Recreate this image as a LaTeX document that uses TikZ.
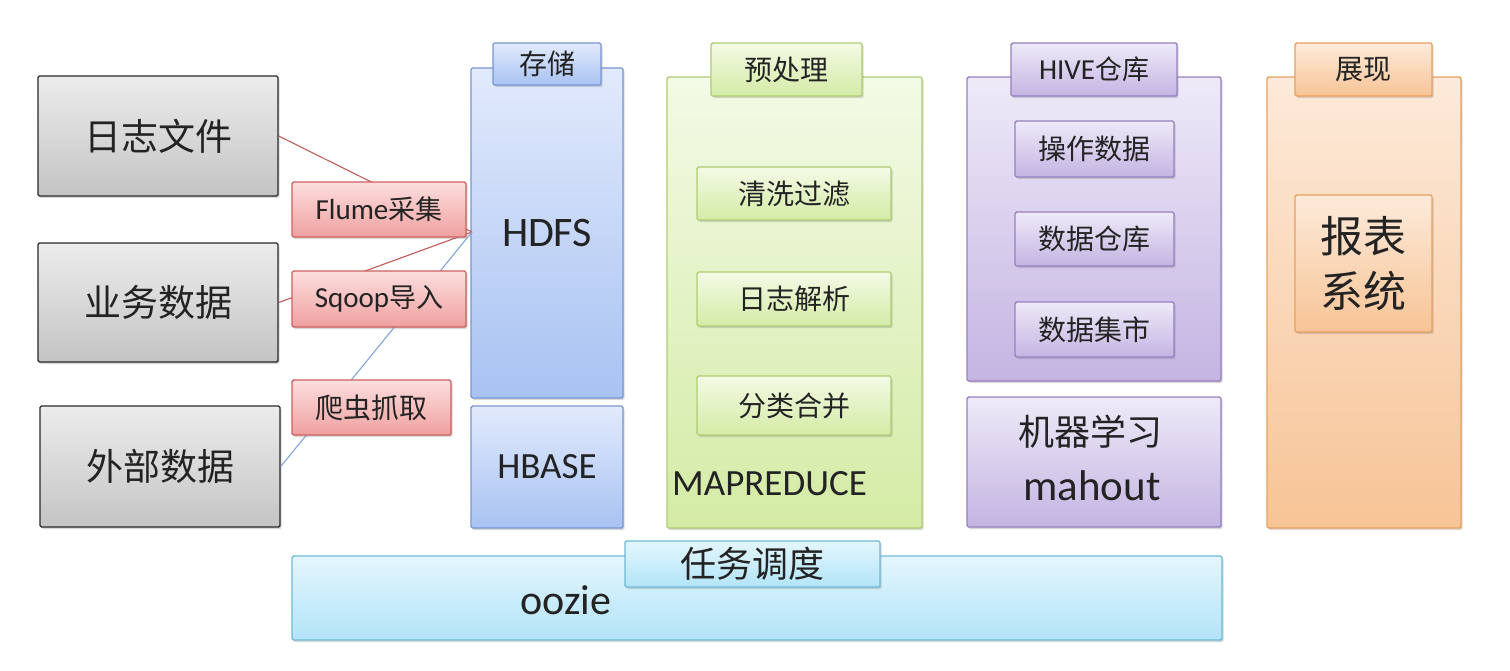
\documentclass[tikz,border=0pt]{standalone}
\usepackage{fontspec}
\setmainfont{Noto Sans CJK SC}
\newfontfamily\lat{Carlito}
\usetikzlibrary{shadows}
\newcommand{\fsz}[1]{\fontsize{#1}{#1}\selectfont}
\definecolor{txt}{RGB}{35,35,35}
\definecolor{grayD}{RGB}{40,40,40}
\definecolor{grayT}{RGB}{236,236,236}
\definecolor{grayBt}{RGB}{196,196,196}
\definecolor{redD}{RGB}{205,95,95}
\definecolor{redT}{RGB}{252,222,222}
\definecolor{redBt}{RGB}{240,160,160}
\definecolor{blueD}{RGB}{120,150,210}
\definecolor{blueT}{RGB}{226,234,252}
\definecolor{blueBt}{RGB}{168,194,242}
\definecolor{greenD}{RGB}{175,205,115}
\definecolor{greenT}{RGB}{243,250,230}
\definecolor{greenBt}{RGB}{212,235,165}
\definecolor{purD}{RGB}{150,128,192}
\definecolor{purT}{RGB}{238,234,248}
\definecolor{purBt}{RGB}{196,180,226}
\definecolor{orD}{RGB}{232,160,95}
\definecolor{orT}{RGB}{253,234,218}
\definecolor{orBt}{RGB}{247,196,150}
\definecolor{cyD}{RGB}{110,185,215}
\definecolor{cyT}{RGB}{228,246,253}
\definecolor{cyBt}{RGB}{178,228,248}
\definecolor{lineR}{RGB}{195,90,88}
\definecolor{lineB}{RGB}{130,165,215}
\begin{document}
\begin{tikzpicture}[x=1pt,y=-1pt,
  base/.style={draw, line width=1.4pt, rounded corners=1.5pt, inner sep=0pt, align=center, text=txt,
    drop shadow={shadow xshift=1.5pt, shadow yshift=-2pt, opacity=0.3}},
  graybox/.style={base, draw=grayD, top color=grayT, bottom color=grayBt},
  redbox/.style={base, draw=redD, top color=redT, bottom color=redBt},
  bluebox/.style={base, draw=blueD, top color=blueT, bottom color=blueBt},
  greenbox/.style={base, draw=greenD, top color=greenT, bottom color=greenBt},
  purbox/.style={base, draw=purD, top color=purT, bottom color=purBt},
  orbox/.style={base, draw=orD, top color=orT, bottom color=orBt},
  cybox/.style={base, draw=cyD, top color=cyT, bottom color=cyBt},
  conn/.style={line width=1.1pt},
  plain/.style={inner sep=0pt, text=txt}
]
\useasboundingbox (0,0) rectangle (1510,670);
\fill[white] (0,0) rectangle (1510,670);

% sources
\node[graybox, minimum width=240pt, minimum height=120pt] (log) at (158,136) {\fsz{37}日志文件};
\node[graybox, minimum width=240pt, minimum height=119pt] (biz) at (158,302.5) {\fsz{37}业务数据};
\node[graybox, minimum width=240pt, minimum height=121pt] (ext) at (160,466.5) {\fsz{37}外部数据};

% storage
\node[bluebox, minimum width=152pt, minimum height=330pt] (hdfs) at (547,233) {\fsz{42}\lat HDFS};
\node[bluebox, minimum width=108pt, minimum height=42pt] (storetab) at (547,64) {\fsz{28}存储};
\node[bluebox, minimum width=152pt, minimum height=122pt] (hbase) at (547,467) {\fsz{37}\lat HBASE};

\coordinate (hin) at (472,232);
\draw[conn, lineR] (log.east) -- (hin);
\draw[conn, lineR] (biz.east) -- (hin);
\draw[conn, lineB] (ext.east) -- (hin);

% collection labels
\node[redbox, minimum width=174pt, minimum height=55pt] (flume) at (379,209.5) {\fsz{27}{\lat\fsz{29}Flume}采集};
\node[redbox, minimum width=174pt, minimum height=56pt] (sqoop) at (379,299) {\fsz{27}{\lat\fsz{29}Sqoop}导入};
\node[redbox, minimum width=159pt, minimum height=55pt] (crawl) at (371.5,407.5) {\fsz{28}爬虫抓取};

% preprocessing
\node[greenbox, minimum width=255pt, minimum height=451pt] (mr) at (794.5,302.5) {};
\node[greenbox, minimum width=151pt, minimum height=53pt] (pretab) at (786.5,69.5) {\fsz{28}预处理};
\node[greenbox, minimum width=194pt, minimum height=53pt] (clean) at (794,193.5) {\fsz{28}清洗过滤};
\node[greenbox, minimum width=194pt, minimum height=54pt] (parse) at (794,299) {\fsz{28}日志解析};
\node[greenbox, minimum width=194pt, minimum height=59pt] (merge) at (794,405.5) {\fsz{28}分类合并};
\node[plain, anchor=west] (mrlabel) at (672,484) {\fsz{37}\lat MAPREDUCE};

% hive
\node[purbox, minimum width=254pt, minimum height=304pt] (hive) at (1094,229) {};
\node[purbox, minimum width=166pt, minimum height=53pt] (hivetab) at (1094,69.5) {\fsz{27}{\lat\fsz{29}HIVE}仓库};
\node[purbox, minimum width=159pt, minimum height=56pt] (op) at (1094.5,149) {\fsz{28}操作数据};
\node[purbox, minimum width=159pt, minimum height=54pt] (dw) at (1094.5,239) {\fsz{28}数据仓库};
\node[purbox, minimum width=159pt, minimum height=55pt] (dm) at (1094.5,329.5) {\fsz{28}数据集市};
\node[purbox, minimum width=254pt, minimum height=130pt] (ml) at (1094,462) {};
\node[plain] (mltext) at (1090,432) {\fsz{36}机器学习};
\node[plain] (mahout) at (1092,486) {\fsz{43}\lat mahout};

% presentation
\node[orbox, minimum width=194pt, minimum height=451pt] (show) at (1364,302.5) {};
\node[orbox, minimum width=137pt, minimum height=53pt] (showtab) at (1363.5,69.5) {\fsz{28}展现};
\node[orbox, minimum width=137pt, minimum height=137pt, font=\fontsize{43}{55}\selectfont] (report) at (1363.5,263.5) {报表\\系统};

% scheduling
\node[cybox, minimum width=930pt, minimum height=84pt] (oozie) at (757,598) {};
\node[cybox, minimum width=255pt, minimum height=46pt] (tasktab) at (752.5,564) {\fsz{36}任务调度};
\node[plain] (oozietext) at (566,600) {\fsz{42}\lat oozie};
\end{tikzpicture}
\end{document}
